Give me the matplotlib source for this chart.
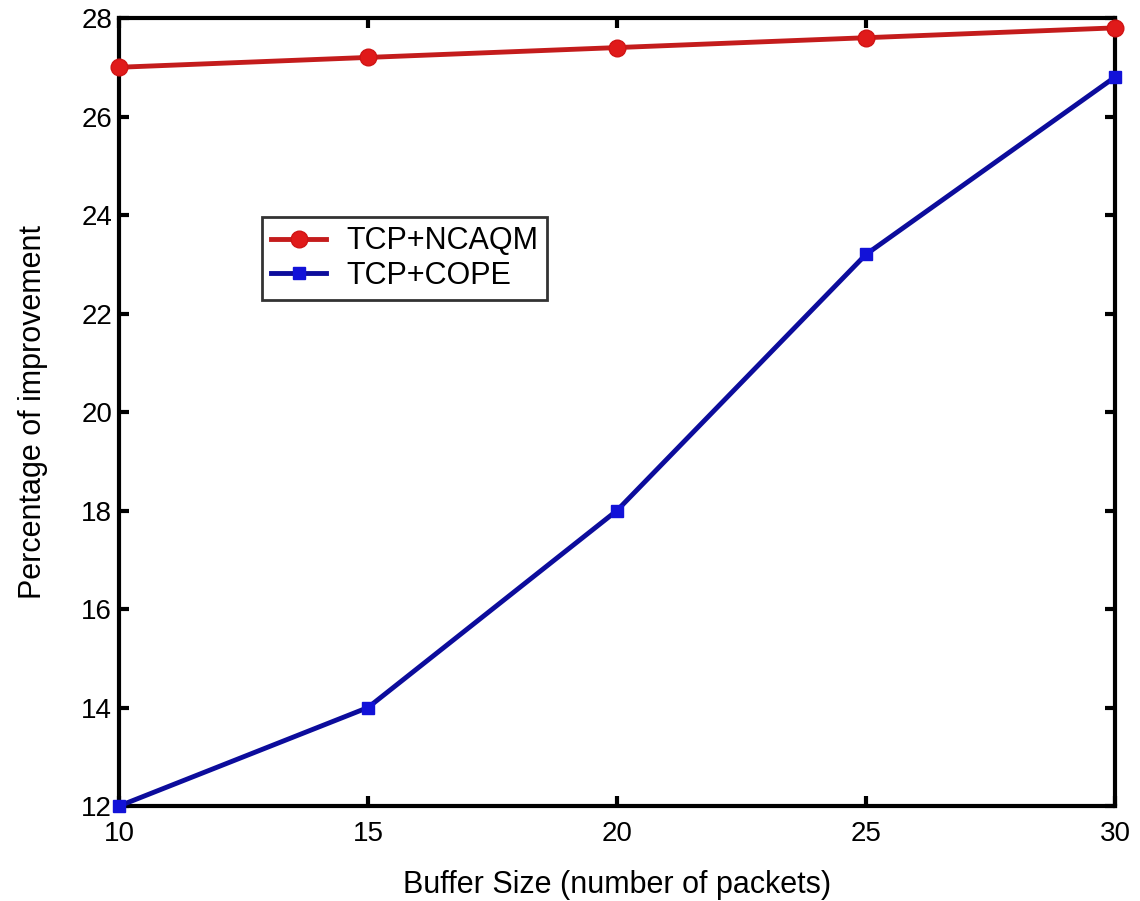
import numpy as np
import matplotlib.pyplot as plt

plt.rcParams['font.family'] = ['Liberation Sans', 'DejaVu Sans']

# data
buffer_size = [10, 15, 20, 25, 30]
ncaqm = [27.0, 27.2, 27.4, 27.6, 27.8]
cope = [12.0, 14.0, 18.0, 23.2, 26.8]

fig = plt.figure(figsize=(11.4, 9.01), dpi=100)
ax = fig.add_axes([0.1044, 0.1054, 0.8736, 0.8746])

ax.plot(buffer_size, ncaqm, color='#c41c1c', linewidth=3.5, marker='o',
        markersize=12, markerfacecolor='#e01a1a', markeredgecolor='#d01414',
        label='TCP+NCAQM', clip_on=False, zorder=3)
ax.plot(buffer_size, cope, color='#0c0c9c', linewidth=3.5, marker='s',
        markersize=8, markerfacecolor='#1212d8', markeredgecolor='#1212d8',
        label='TCP+COPE', clip_on=False, zorder=3)

ax.set_xlim(10, 30)
ax.set_ylim(12, 28)
ax.set_xticks([10, 15, 20, 25, 30])
ax.set_yticks(np.arange(12, 29, 2))
ax.tick_params(direction='in', length=7, width=3, labelsize=20,
               top=True, right=True)
ax.tick_params(axis='x', pad=11)
ax.tick_params(axis='y', pad=5)
for s in ax.spines.values():
    s.set_linewidth(3)

ax.set_xlabel('Buffer Size (number of packets)', fontsize=22, labelpad=16)
ax.set_ylabel('Percentage of improvement', fontsize=22, labelpad=24)

leg = ax.legend(loc='lower left', bbox_to_anchor=(0.1436, 0.642),
                fontsize=22, frameon=True, fancybox=False, edgecolor='black',
                borderpad=0.3, handlelength=1.8, labelspacing=0.15,
                handletextpad=0.65, borderaxespad=0)
leg.get_frame().set_linewidth(2)

fig.savefig('out.png', dpi=100)
